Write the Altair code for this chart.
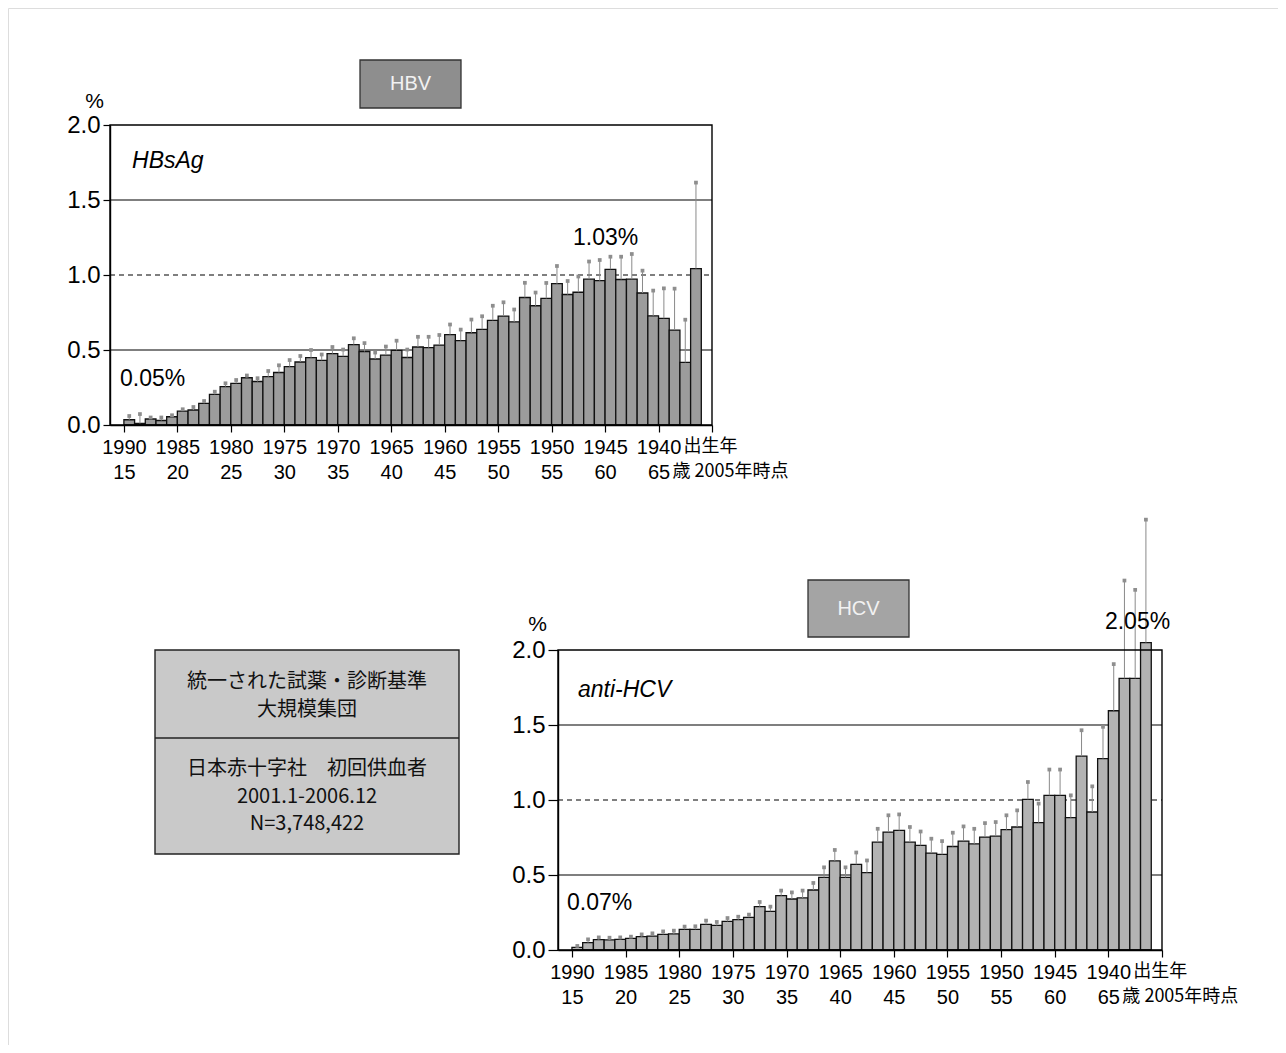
import altair as alt
import pandas as pd

# ---------------- data ----------------
ages = list(range(15, 69))

hbv_values = [0.035, 0.01, 0.04, 0.03, 0.055, 0.093, 0.10, 0.144, 0.204, 0.256,
              0.278, 0.315, 0.29, 0.322, 0.35, 0.389, 0.42, 0.449, 0.431, 0.476,
              0.458, 0.536, 0.49, 0.44, 0.466, 0.498, 0.45, 0.52, 0.516, 0.533,
              0.603, 0.563, 0.615, 0.638, 0.698, 0.726, 0.688, 0.85, 0.795, 0.844,
              0.942, 0.87, 0.885, 0.972, 0.962, 1.038, 0.97, 0.972, 0.88, 0.728,
              0.711, 0.633, 0.417, 1.043]
hbv_upper = [0.06, 0.073, 0.05, 0.05, 0.065, 0.105, 0.12, 0.16, 0.222, 0.278,
             0.30, 0.33, 0.312, 0.36, 0.398, 0.433, 0.46, 0.50, 0.47, 0.52,
             0.503, 0.578, 0.546, 0.483, 0.523, 0.562, 0.503, 0.588, 0.588, 0.60,
             0.67, 0.636, 0.703, 0.725, 0.795, 0.818, 0.77, 0.948, 0.883, 0.947,
             1.06, 0.96, 0.99, 1.09, 1.10, 1.122, 1.122, 1.14, 1.029, 0.896,
             0.911, 0.909, 0.702, 1.616]

hcv_values = [0.018, 0.049, 0.069, 0.067, 0.071, 0.078, 0.089, 0.093, 0.104, 0.107,
              0.138, 0.138, 0.171, 0.164, 0.191, 0.202, 0.218, 0.289, 0.258, 0.362,
              0.34, 0.347, 0.40, 0.484, 0.594, 0.484, 0.571, 0.516, 0.719, 0.786,
              0.797, 0.719, 0.697, 0.646, 0.637, 0.69, 0.726, 0.708, 0.753, 0.759,
              0.802, 0.82, 1.004, 0.849, 1.031, 1.031, 0.882, 1.292, 0.92, 1.276,
              1.595, 1.811, 1.811, 2.049]
hcv_upper = [0.027, 0.071, 0.084, 0.082, 0.084, 0.089, 0.104, 0.111, 0.124, 0.129,
             0.156, 0.158, 0.196, 0.187, 0.213, 0.222, 0.236, 0.32, 0.289, 0.396,
             0.384, 0.396, 0.447, 0.551, 0.667, 0.551, 0.65, 0.597, 0.808, 0.898,
             0.904, 0.82, 0.79, 0.742, 0.726, 0.782, 0.824, 0.808, 0.846, 0.853,
             0.898, 0.931, 1.12, 0.976, 1.203, 1.203, 1.031, 1.465, 1.091, 1.488,
             1.906, 2.463, 2.401, 2.869]

tick_ages = [15, 20, 25, 30, 35, 40, 45, 50, 55, 60, 65, 70]
birth_labels = ["1990", "1985", "1980", "1975", "1970", "1965", "1960", "1955",
                "1950", "1945", "1940", ""]
age_labels = ["15", "20", "25", "30", "35", "40", "45", "50", "55", "60", "65", ""]
y_ticks = [0.0, 0.5, 1.0, 1.5, 2.0]
solid_grid = [0.5, 1.5]
dashed_grid = [1.0]

box_lines_top = ["統一された試薬・診断基準", "大規模集団"]
box_lines_bottom = ["日本赤十字社　初回供血者", "2001.1-2006.12", "N=3,748,422"]

# ---------------- style ----------------
W, H = 1270, 1037
FONT = "Liberation Sans, Arial, sans-serif"
NARROW = "Liberation Sans Narrow, Liberation Sans, sans-serif"
JP = "Noto Sans CJK JP"
X_DOMAIN = [13.7, 70]


def label_expr():
    expr = "''"
    for a, b, c in reversed(list(zip(tick_ages, birth_labels, age_labels))):
        expr = f"datum.value == {a} ? ['{b}', '{c}'] : ({expr})"
    return expr


def panel(values, upper, x_range, y_range, bar_fill, ytitle_x, ytitle_y,
          tick_len, annotations, ext_dx):
    df = pd.DataFrame({
        "age": ages,
        "age_end": [a + 1 for a in ages],
        "mid": [a + 0.5 for a in ages],
        "value": values,
        "upper": upper,
        "zero": [0.0] * len(ages),
    })
    sx = alt.Scale(domain=X_DOMAIN, range=x_range, nice=False, zero=False)
    sy = alt.Scale(domain=[0, 2], range=y_range, nice=False)
    x_axis = alt.Axis(orient="bottom", offset=y_range[0] - H, values=tick_ages,
                      labelExpr=label_expr(), labelFont=NARROW, labelFontSize=20,
                      labelLineHeight=25, labelColor="black", labelPadding=5,
                      labelFlush=False, labelOverlap=False, tickSize=7,
                      tickColor="black", tickWidth=1.2, domainColor="black",
                      domainWidth=1.4, grid=False, title=None, zindex=1)
    y_axis = alt.Axis(orient="left", offset=-x_range[0], values=y_ticks,
                      format=".1f", labelFont=FONT, labelFontSize=24,
                      labelColor="black", labelPadding=3, labelFlush=False,
                      labelOverlap=False, tickSize=tick_len, tickColor="black",
                      tickWidth=1.2, domainColor="black", domainWidth=1.4,
                      grid=False, title="%", titleAngle=0, titleX=ytitle_x,
                      titleY=ytitle_y, titleAlign="center",
                      titleBaseline="alphabetic", titleFont=FONT,
                      titleFontSize=21, titleFontWeight="normal",
                      titleColor="black", zindex=1)

    base = alt.Chart(df)
    bars = base.mark_rect(fill=bar_fill, stroke="#111111", strokeWidth=1.3).encode(
        x=alt.X("age:Q", scale=sx, axis=x_axis),
        x2="age_end:Q",
        y=alt.Y("value:Q", scale=sy, axis=y_axis),
        y2="zero:Q",
    )
    err = base.mark_rule(color="#8a8a8a", strokeWidth=1).encode(
        x="mid:Q", y="value:Q", y2="upper:Q")
    caps = base.mark_point(shape="square", filled=True, size=14,
                           color="#8e8e8e", opacity=1).encode(
        x="mid:Q", y="upper:Q")

    g1 = alt.Chart(pd.DataFrame({"g": solid_grid})).mark_rule(
        color="black", strokeWidth=1.1).encode(
        y="g:Q", x=alt.datum(X_DOMAIN[0]), x2=alt.datum(X_DOMAIN[1]))
    g2 = alt.Chart(pd.DataFrame({"g": dashed_grid})).mark_rule(
        color="black", strokeWidth=1.1, strokeDash=[5, 4]).encode(
        y="g:Q", x=alt.datum(X_DOMAIN[0]), x2=alt.datum(X_DOMAIN[1]))
    frame = alt.Chart(pd.DataFrame({"x0": [X_DOMAIN[0]], "x1": [X_DOMAIN[1]],
                                    "y0": [0.0], "y1": [2.0]})).mark_rect(
        fill=None, stroke="black", strokeWidth=1.4).encode(
        x="x0:Q", x2="x1:Q", y="y0:Q", y2="y1:Q")

    layers = [g1, g2, bars, err, caps, frame]
    for txt, ax, ay, italic in annotations:
        layers.append(
            alt.Chart(pd.DataFrame({"t": [txt], "ax": [ax], "ay": [ay]})).mark_text(
                align="left", baseline="alphabetic", font=FONT, fontSize=23,
                fontStyle="italic" if italic else "normal", color="black").encode(
                x="ax:Q", y="ay:Q", text="t:N"))

    row1 = y_range[0] + 7 + 5
    ext = pd.DataFrame({"t": ["出生年", "歳 2005年時点"],
                        "ax": [65, 65]})
    layers.append(alt.Chart(ext.iloc[[0]]).mark_text(
        align="left", baseline="top", font=JP, fontSize=18, color="black",
        dx=ext_dx[0], dy=1).encode(x="ax:Q", y=alt.value(row1), text="t:N"))
    layers.append(alt.Chart(ext.iloc[[1]]).mark_text(
        align="left", baseline="top", font=JP, fontSize=18, color="black",
        dx=ext_dx[1], dy=1).encode(x="ax:Q", y=alt.value(row1 + 25), text="t:N"))
    return alt.layer(*layers)


hbv = panel(hbv_values, hbv_upper, [102, 704], [417, 117], "#9c9c9c",
            -16, 99, 7,
            [("HBsAg", 15.76, 1.713, True), ("0.05%", 14.64, 0.26, False),
             ("1.03%", 57.0, 1.2, False)], (25, 14))
hcv = panel(hcv_values, hcv_upper, [550, 1154], [942, 642], "#b3b3b3",
            -21, 622, 10,
            [("anti-HCV", 15.56, 1.69, True), ("0.07%", 14.54, 0.267, False),
             ("2.05%", 64.68, 2.14, False)], (25, 14))

# ---- label boxes (HBV / HCV) ----
def tag(label, x0, x1, y0, y1, fill):
    d = pd.DataFrame({"t": [label]})
    r = alt.Chart(d).mark_rect(fill=fill, stroke="#333333", strokeWidth=1.3).encode(
        x=alt.value(x0), x2=alt.value(x1), y=alt.value(y0), y2=alt.value(y1))
    t = alt.Chart(d).mark_text(font=FONT, fontSize=20, color="#f2f2f2",
                               align="center", baseline="middle").encode(
        x=alt.value((x0 + x1) / 2), y=alt.value((y0 + y1) / 2), text="t:N")
    return [r, t]


tags = tag("HBV", 352, 453, 52, 100, "#8e8e8e") + tag("HCV", 800, 901, 572, 629, "#a4a4a4")

# ---- info box ----
bx0, bx1, by0, bmid, by1 = 147, 451, 642, 730, 846
info_bg = alt.Chart(pd.DataFrame({"t": ["box"]})).mark_rect(
    fill="#c9c9c9", stroke="#222222", strokeWidth=1.4).encode(
    x=alt.value(bx0), x2=alt.value(bx1), y=alt.value(by0), y2=alt.value(by1))
info_div = alt.Chart(pd.DataFrame({"t": ["div"]})).mark_rule(
    color="#222222", strokeWidth=1.3).encode(
    x=alt.value(bx0), x2=alt.value(bx1), y=alt.value(bmid))
info_lines = []
for txt, yy in zip(box_lines_top + box_lines_bottom, [674, 702, 761, 789, 816]):
    info_lines.append(alt.Chart(pd.DataFrame({"t": [txt]})).mark_text(
        font=JP, fontSize=20, color="#111111", align="center",
        baseline="middle").encode(x=alt.value((bx0 + bx1) / 2), y=alt.value(yy),
                                  text="t:N"))

chart = alt.layer(hbv, hcv, *tags, info_bg, info_div, *info_lines).resolve_scale(
    x="independent", y="independent"
).properties(
    width=W, height=H, padding=0,
    autosize=alt.AutoSizeParams(type="none"),
).configure_view(stroke="#9a9a9a", strokeWidth=1.2).configure(background="white")

chart.save("out.html", embed_options={"renderer": "svg", "actions": False})
